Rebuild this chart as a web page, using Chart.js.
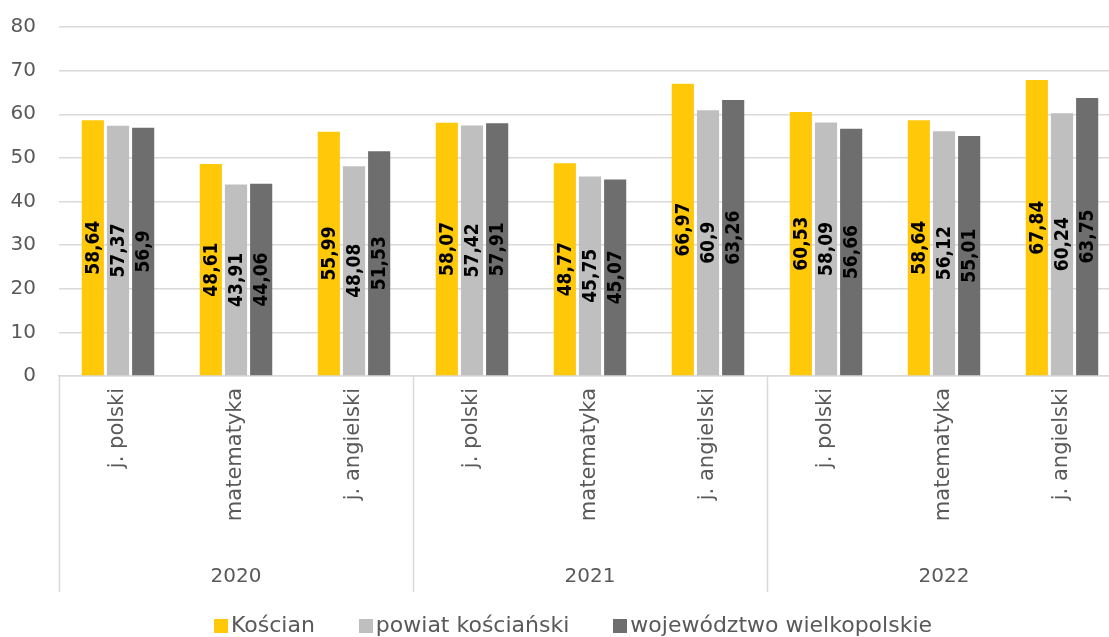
<!DOCTYPE html>
<html>
<head>
<meta charset="utf-8">
<script src="https://cdn.jsdelivr.net/npm/chart.js@4/dist/chart.umd.min.js"></script>
<style>
html,body{margin:0;padding:0;background:#fff;overflow:hidden;width:1109px;height:637px;}
#wrap{position:absolute;left:0;top:0;width:1121px;height:637px;}
#legend{position:absolute;left:0;top:612px;width:1146px;text-align:center;font-family:'DejaVu Sans',sans-serif;font-size:22px;line-height:26px;color:#595959;white-space:nowrap;}
#legend span.item{display:inline-block;margin:0 22px;}
#legend span.box{display:inline-block;width:14px;height:14px;margin-right:3px;vertical-align:-1px;}
</style>
</head>
<body>
<div id="wrap"><canvas id="c"></canvas></div>
<div id="legend"></div>
<script>
const categories = ['j. polski','matematyka','j. angielski','j. polski','matematyka','j. angielski','j. polski','matematyka','j. angielski'];
const years = ['2020','2021','2022'];
const seriesNames = ['Kościan','powiat kościański','województwo wielkopolskie'];
const koscian = [58.64,48.61,55.99,58.07,48.77,66.97,60.53,58.64,67.84];
const powiat = [57.37,43.91,48.08,57.42,45.75,60.9,58.09,56.12,60.24];
const wojewodztwo = [56.9,44.06,51.53,57.91,45.07,63.26,56.66,55.01,63.75];
const yTicks = [0,10,20,30,40,50,60,70,80];
const colors = ['#FFC808','#BFBFBF','#6E6E6E'];

const textColor = '#595959';
const gridColor = '#D9D9D9';

const valueLabels = {
  id:'valueLabels',
  afterDatasetsDraw(chart){
    const ctx = chart.ctx;
    ctx.save();
    ctx.font = "bold 19px 'Liberation Sans Narrow','DejaVu Sans Condensed',sans-serif";
    ctx.fillStyle = '#000';
    ctx.textAlign = 'center';
    ctx.textBaseline = 'middle';
    chart.data.datasets.forEach((ds,di)=>{
      const meta = chart.getDatasetMeta(di);
      meta.data.forEach((bar,i)=>{
        const txt = String(ds.data[i]).replace('.',',');
        const cy = (bar.y + bar.base)/2;
        ctx.save();
        ctx.translate(bar.x+1, cy);
        ctx.rotate(-Math.PI/2);
        ctx.fillText(txt,0,0);
        ctx.restore();
      });
    });
    ctx.restore();
  }
};

const groupAxis = {
  id:'groupAxis',
  afterDraw(chart){
    const ctx = chart.ctx;
    const xs = chart.scales.x;
    const n = categories.length;
    const cw = (xs.getPixelForValue(1) - xs.getPixelForValue(0));
    const left = xs.getPixelForValue(0) - cw/2;
    const bottom = chart.chartArea.bottom;
    const per = n/years.length;
    ctx.save();
    ctx.strokeStyle = gridColor;
    ctx.lineWidth = 1.5;
    for(let k=0;k<=years.length;k++){
      const x = Math.round(left + k*per*cw)+0.5;
      ctx.beginPath();
      ctx.moveTo(x,bottom);
      ctx.lineTo(x,592);
      ctx.stroke();
    }
    ctx.fillStyle = textColor;
    ctx.font = "20px 'DejaVu Sans',sans-serif";
    ctx.textAlign='center';
    ctx.textBaseline='middle';
    years.forEach((y,k)=>{
      ctx.fillText(y, left + (k+0.5)*per*cw, 577);
    });
    ctx.restore();
  }
};

const ctx = document.getElementById('c');
new Chart(ctx,{
  type:'bar',
  data:{
    labels:categories,
    datasets:[
      {label:seriesNames[0],data:koscian,backgroundColor:colors[0]},
      {label:seriesNames[1],data:powiat,backgroundColor:colors[1]},
      {label:seriesNames[2],data:wojewodztwo,backgroundColor:colors[2]}
    ]
  },
  options:{
    responsive:true,
    maintainAspectRatio:false,
    animation:false,
    devicePixelRatio:1,
    layout:{padding:{top:27,right:0,left:0,bottom:0}},
    datasets:{bar:{categoryPercentage:0.64,barPercentage:0.88}},
    plugins:{legend:{display:false},tooltip:{enabled:false}},
    scales:{
      x:{
        grid:{display:false,drawTicks:false},
        border:{display:true,color:gridColor,width:1.5},
        ticks:{
          color:textColor,
          font:{family:"'DejaVu Sans',sans-serif",size:21},
          minRotation:90,maxRotation:90,
          padding:12,
          autoSkip:false
        },
        afterFit(scale){scale.height = 261;}
      },
      y:{
        min:0,max:80,
        afterBuildTicks(scale){scale.ticks = yTicks.map(v=>({value:v}));},
        grid:{color:gridColor,lineWidth:1.5,drawTicks:false},
        border:{display:false},
        ticks:{
          color:textColor,
          font:{family:"'DejaVu Sans',sans-serif",size:20},
          padding:23
        },
        afterFit(scale){scale.width = 59; scale.paddingTop = 0; scale.paddingBottom = 0;}
      }
    }
  },
  plugins:[valueLabels,groupAxis]
});

const leg = document.getElementById('legend');
seriesNames.forEach((name,i)=>{
  const item = document.createElement('span');
  item.className='item';
  const box = document.createElement('span');
  box.className='box';
  box.style.background = colors[i];
  item.appendChild(box);
  item.appendChild(document.createTextNode(name));
  leg.appendChild(item);
});
</script>
</body>
</html>
